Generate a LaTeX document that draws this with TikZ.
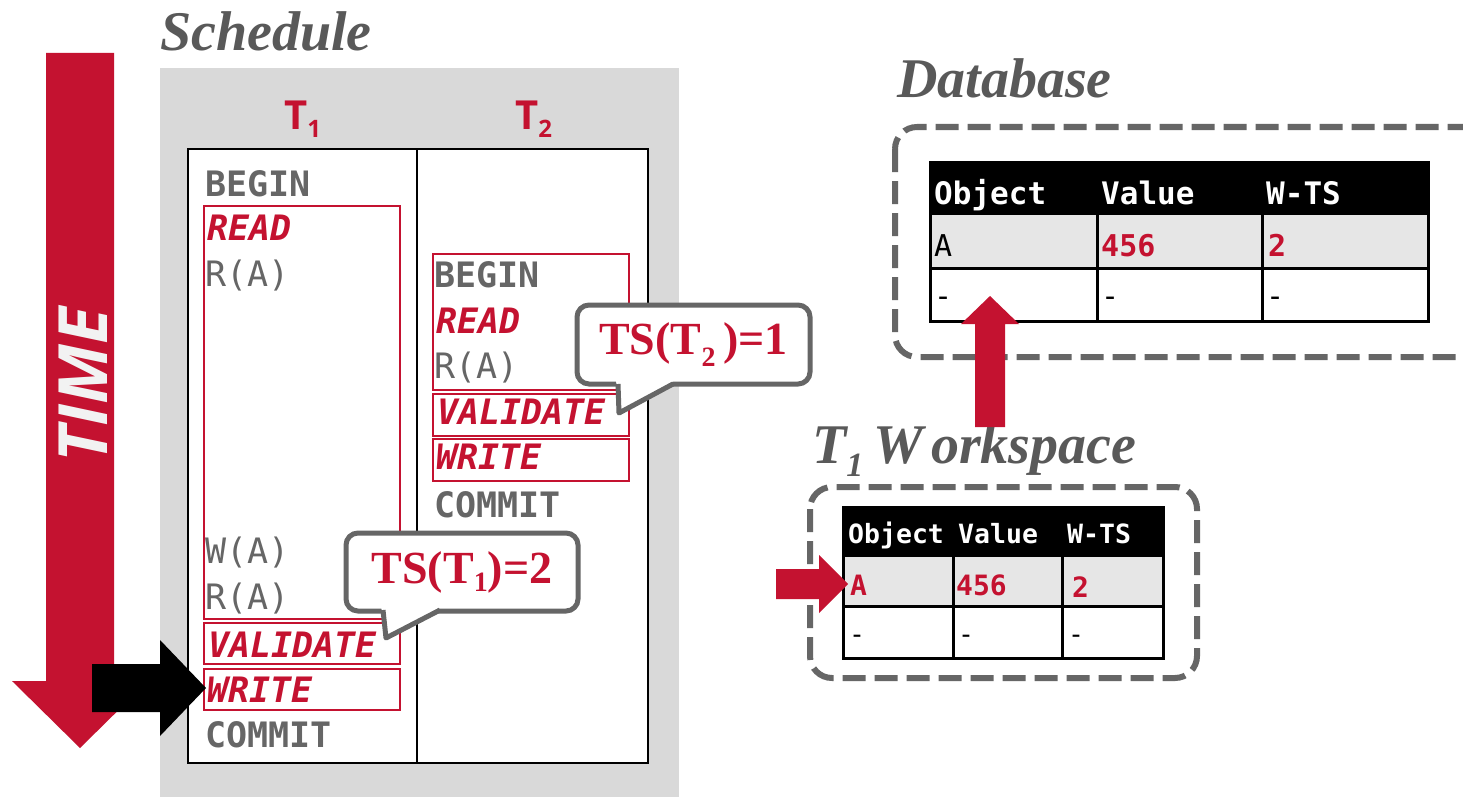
\documentclass[tikz,border=0pt]{standalone}
\usepackage{fontspec}
\setmainfont{Liberation Serif}
\newfontfamily\monof{DejaVu Sans Mono}
\newfontfamily\osans{Open Sans}
\definecolor{cmured}{HTML}{C41230}
\definecolor{titlegray}{HTML}{595959}
\definecolor{txtgray}{HTML}{666666}
\definecolor{panelgray}{HTML}{D9D9D9}
\definecolor{rowgray}{HTML}{E6E6E6}
\definecolor{bordergray}{HTML}{666666}
\newcommand{\lowsub}[3]{\raisebox{-#1}{\fontsize{#2}{#2}\selectfont #3}}
\tikzset{
  gtxt/.style={anchor=base west, inner sep=0pt, text=txtgray, font=\monof\bfseries\fontsize{35}{40}\selectfont},
  ltxt/.style={anchor=base west, inner sep=0pt, text=txtgray, font=\monof\fontsize{35}{40}\selectfont},
  rtxt/.style={anchor=base west, inner sep=0pt, text=cmured, font=\monof\bfseries\itshape\fontsize{35}{40}\selectfont},
  phasebox/.style={draw=cmured, line width=1.5pt, anchor=north west, inner sep=0pt},
  titletxt/.style={anchor=base west, inner sep=0pt, text=titlegray, font=\bfseries\itshape\fontsize{56}{60}\selectfont},
  tlabel/.style={anchor=base west, inner sep=0pt, text=cmured, font=\osans\bfseries\fontsize{40}{44}\selectfont},
  callout/.style={draw=bordergray, fill=white, line width=5pt, rounded corners=12pt, inner sep=0pt,
     text=cmured, font=\bfseries\fontsize{46}{50}\selectfont},
  dashbox/.style={draw=bordergray, line width=6pt, dash pattern=on 23pt off 9pt, rounded corners=22pt},
  hdr/.style={anchor=base west, inner sep=0pt, text=white, font=\monof\bfseries\fontsize{31}{34}\selectfont},
  cell/.style={anchor=base west, inner sep=0pt, text=black, font=\monof\fontsize{30}{34}\selectfont},
  rcell/.style={anchor=base west, inner sep=0pt, text=cmured, font=\monof\bfseries\fontsize{30}{34}\selectfont},
  whdr/.style={anchor=base west, inner sep=0pt, text=white, font=\monof\bfseries\fontsize{26.5}{30}\selectfont},
  wcell/.style={anchor=base west, inner sep=0pt, text=black, font=\monof\fontsize{26.5}{30}\selectfont},
  wrcell/.style={anchor=base west, inner sep=0pt, text=cmured, font=\monof\bfseries\fontsize{28}{30}\selectfont},
}
\begin{document}
\begin{tikzpicture}[x=1pt, y=-1pt]
\useasboundingbox (0,0) rectangle (1463,797);
\fill[white] (0,0) rectangle (1463,797);

% ---------- Schedule ----------
\node[titletxt] (schedtitle) at (160,51) {Schedule};
\fill[panelgray] (160,68) rectangle (679,797);
\node[tlabel] (t1) at (284,129) {T\lowsub{8pt}{24}{1}};
\node[tlabel] (t2) at (515,129) {T\lowsub{8pt}{24}{2}};
\draw[line width=2pt, fill=white] (188,149) rectangle (648,763);
\draw[line width=2pt] (417,149) -- (417,763);

% phase boxes
\node[phasebox, minimum width=196pt, minimum height=413pt] (t1read) at (203,205) {};
\node[phasebox, minimum width=196pt, minimum height=41pt] (t1val) at (203,622) {};
\node[phasebox, minimum width=196pt, minimum height=41pt] (t1write) at (203,668) {};
\node[phasebox, minimum width=196pt, minimum height=136pt] (t2read) at (432,253) {};
\node[phasebox, minimum width=196pt, minimum height=42pt] (t2val) at (432,393) {};
\node[phasebox, minimum width=196pt, minimum height=42pt] (t2write) at (432,438) {};

% T1 column
\node[gtxt] (a1) at (205,196) {BEGIN};
\node[rtxt] (a2) at (207,240) {READ};
\node[ltxt] (a3) at (205,286) {R(A)};
\node[ltxt] (a4) at (205,563) {W(A)};
\node[ltxt] (a5) at (205,609) {R(A)};
\node[rtxt] (a6) at (208,657) {VALIDATE};
\node[rtxt] (a7) at (207,702) {WRITE};
\node[gtxt] (a8) at (205,747) {COMMIT};

% T2 column
\node[gtxt] (b1) at (434,287) {BEGIN};
\node[rtxt] (b2) at (436,333) {READ};
\node[ltxt] (b3) at (434,378) {R(A)};
\node[rtxt] (b4) at (437,424) {VALIDATE};
\node[rtxt] (b5) at (436,469) {WRITE};
\node[gtxt] (b6) at (434,517) {COMMIT};

% callouts
\node[callout, minimum width=232pt, minimum height=78pt] (c1) at (462,572) {TS(T\lowsub{8pt}{28}{1})=2};
\fill[white] (381,606) -- (386,638) -- (442,606) -- cycle;
\draw[bordergray, line width=5pt, line join=round] (383,610) -- (386,638) -- (440,610);

\node[callout, minimum width=233pt, minimum height=79pt] (c2) at (693.5,344.5) {TS(T\lowsub{12pt}{28}{2}\,)=1};
\fill[white] (616,380) -- (619,413) -- (675,380) -- cycle;
\draw[bordergray, line width=5pt, line join=round] (618,384) -- (619,413) -- (673,384);

% TIME arrow
\fill[cmured] (46,53) -- (114,53) -- (114,681) -- (148,681) -- (80,748) -- (12,681) -- (46,681) -- cycle;
\node[rotate=90, inner sep=0pt, text=white!95!black, font=\osans\bfseries\itshape\fontsize{68}{68}\selectfont] (time) at (83,385) {TIME};
% black pointer
\fill[black] (92,664) -- (160,664) -- (160,640) -- (206,688) -- (160,736) -- (160,712) -- (92,712) -- cycle;

% ---------- Database ----------
\node[titletxt] (dbtitle) at (897,98) {Database};
\draw[dashbox] (895,127) rectangle (1490,357);
\fill[black] (930,162) rectangle (1428,213);
\fill[rowgray] (930,213) rectangle (1428,268);
\fill[white] (930,268) rectangle (1428,321);
\draw[line width=3pt] (930,162) rectangle (1428,321);
\draw[line width=3pt] (930,213) -- (1428,213) (930,268) -- (1428,268);
\draw[line width=3pt] (1097,162) -- (1097,321) (1262,162) -- (1262,321);
\node[hdr] (dh1) at (934,204) {Object};
\node[hdr] (dh2) at (1101,204) {Value};
\node[hdr] (dh3) at (1266,204) {W-TS};
\node[cell] (d11) at (934,256) {A};
\node[rcell] (d12) at (1101,256) {456};
\node[rcell] (d13) at (1268,256) {2};
\node[cell] (d21) at (934,306) {-};
\node[cell] (d22) at (1101,306) {-};
\node[cell] (d23) at (1266,306) {-};

% ---------- Workspace ----------
\node[titletxt] (wstitle) at (812,463) {T\lowsub{13pt}{34}{1}\hspace{10pt}W\hspace{8pt}orkspace};
\draw[dashbox] (810,487) rectangle (1197,678);
\fill[black] (843,507) rectangle (1163,555);
\fill[rowgray] (843,555) rectangle (1163,606);
\fill[white] (843,606) rectangle (1163,658);
\draw[line width=3pt] (843,507) rectangle (1163,658);
\draw[line width=3pt] (843,555) -- (1163,555) (843,606) -- (1163,606);
\draw[line width=3pt] (953,507) -- (953,658) (1062,507) -- (1062,658);
\node[whdr] (wh1) at (848,543) {Object};
\node[whdr] (wh2) at (958,543) {Value};
\node[whdr] (wh3) at (1067,543) {W-TS};
\node[wrcell] (w11) at (850,595) {A};
\node[wrcell] (w12) at (956,595) {456};
\node[wrcell] (w13) at (1072,597) {2};
\node[wcell] (w21) at (849,643) {-};
\node[wcell] (w22) at (958,643) {-};
\node[wcell] (w23) at (1068,643) {-};

% red arrows
\fill[cmured] (975,427) -- (975,324) -- (961,324) -- (990,296) -- (1019,324) -- (1005,324) -- (1005,427) -- cycle;
\fill[cmured] (776,569) -- (819,569) -- (819,555) -- (848,584) -- (819,613) -- (819,599) -- (776,599) -- cycle;
\end{tikzpicture}
\end{document}
